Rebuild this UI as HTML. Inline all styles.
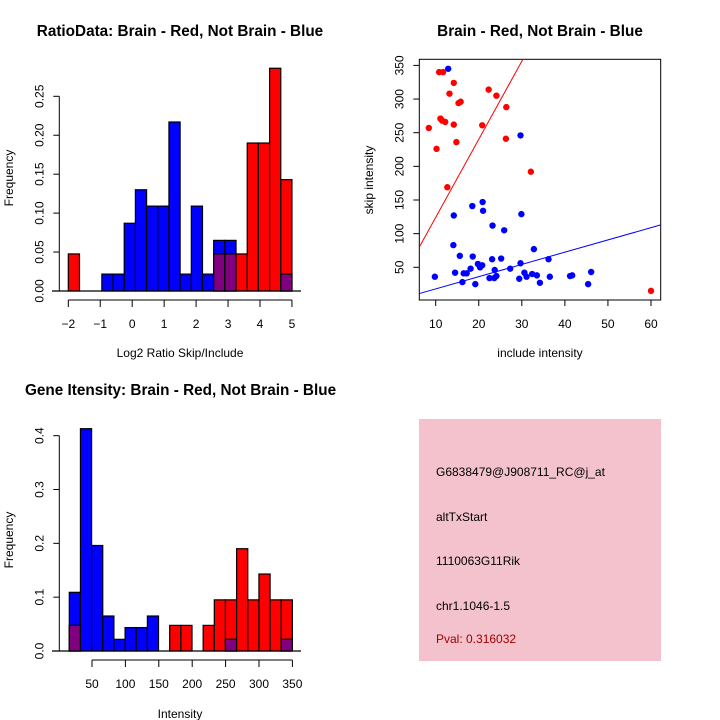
<!DOCTYPE html>
<html><head><meta charset="utf-8"><style>
html,body{margin:0;padding:0;background:#fff;}
svg{display:block;font-family:"Liberation Sans",sans-serif;}
</style></head><body>
<svg id="s" width="720" height="720" viewBox="0 0 720 720" xmlns="http://www.w3.org/2000/svg">
<g id="p1"></g>
<g id="p2"></g>
<g id="p3"></g>
<g>
<rect x="419" y="419" width="242" height="242" fill="#f3c2cd"/>
<text x="436" y="476" font-size="12">G6838479@J908711_RC@j_at</text>
<text x="436" y="521" font-size="12">altTxStart</text>
<text x="436" y="565" font-size="12">1110063G11Rik</text>
<text x="436" y="610" font-size="12">chr1.1046-1.5</text>
<text x="436" y="643" font-size="12" fill="#a00000">Pval: 0.316032</text>
</g>
</svg>
<script>
// ---- Plot 1 data: log2 ratio histogram (bins of 0.35 from -2) ----
const ratioBinStart = -2;
const ratioBinWidth = 0.35;
const ratioRed = [0.0476,0,0,0,0,0,0,0,0,0,0,0,0,0.0476,0.0476,0.0476,0.190,0.190,0.286,0.143];
const ratioBlue = [0,0,0,0.0217,0.0217,0.087,0.130,0.109,0.109,0.217,0.0217,0.109,0.0217,0.065,0.065,0,0,0,0,0.0217];
const ratioXTicks = [-2,-1,0,1,2,3,4,5];
const ratioYTicks = [0,0.05,0.10,0.15,0.20,0.25];
const ratioYLabels = ["0.00","0.05","0.10","0.15","0.20","0.25"];

// ---- Plot 2 data: scatter ----
const redInclude = [10.8,11.7,14.2,13.2,24.1,22.3,15.3,15.8,26.4,8.4,11.1,11.5,12.2,14.2,20.8,10.2,14.8,26.3,32.1,12.7,60];
const redSkip = [340,340,324,308,305,314,294,296,288,257,271,268,266,262,261,226,236,241,192,169,15];
const blueInclude = [12.9,29.7,14.2,18.5,20.9,21,29.9,23.2,25.9,14.1,15.6,18.6,32.8,23.1,25.2,36.2,19.8,20.8,20.3,29.7,18.1,27.3,23.7,14.5,16.5,17.2,30.6,32.4,31.1,33.5,9.8,22.5,23.6,24.1,36.5,41.2,41.7,46.1,16.2,29.4,34.2,19.2,45.4];
const blueSkip = [345,246,127,141,147,134,129,112,105,83,67,66,77,62,63,62,55,53,50,56,48,48,46,42,41,41,42,40,36,38,36,34,34,37,36,37,38,43,28,33,27,25,25];
const redFit = [8.2, 11.6];   // intercept, slope
const blueFit = [-0.3, 1.82];
const scatXTicks = [10,20,30,40,50,60];
const scatYTicks = [50,100,150,200,250,300,350];

// ---- Plot 3 data: intensity histogram ----
const intBinStart = 16;
const intBinWidth = 16.7;
const intRed = [0.0476,0,0,0,0,0,0,0,0,0.0476,0.0476,0,0.0476,0.095,0.095,0.190,0.095,0.143,0.095,0.095];
const intBlue = [0.109,0.413,0.196,0.065,0.0217,0.0435,0.0435,0.065,0,0,0,0,0,0,0.0217,0,0,0,0,0.0217];
const intXTicks = [50,100,150,200,250,300,350];
const intYTicks = [0,0.1,0.2,0.3,0.4];
const intYLabels = ["0.0","0.1","0.2","0.3","0.4"];

const NS = "http://www.w3.org/2000/svg";
function mk(parent, tag, attrs, text) {
  const e = document.createElementNS(NS, tag);
  for (const k in attrs) e.setAttribute(k, attrs[k]);
  if (text !== undefined) e.textContent = text;
  parent.appendChild(e);
  return e;
}

function histogram(g, o) {
  const X = v => o.x0 + (v - o.xv0) * o.xs;
  const Y = v => o.y0 - v * o.ys;
  const t = mk(g, 'text', {x: o.titleX, y: o.titleY, 'font-size': 15.3, 'font-weight': 'bold', 'text-anchor': o.titleAnchor});
  t.textContent = o.title;
  
  
  for (let i = 0; i < o.blue.length; i++) {
    const a = o.binStart + i * o.binW, b = a + o.binW;
    const layers = [];
    if (o.blue[i] > 0) layers.push([o.blue[i], '#0000ff', 'bar-blue']);
    if (o.red[i] > 0) layers.push([o.red[i], '#ff0000', 'bar-red']);
    layers.sort((p, q) => q[0] - p[0]);
    if (o.blue[i] > 0 && o.red[i] > 0) layers.push([Math.min(o.blue[i], o.red[i]), '#800080', 'bar-overlap']);
    for (const L of layers) {
      const r = mk(g, 'rect', {x: X(a), y: Y(L[0]), width: X(b) - X(a), height: Y(0) - Y(L[0]), fill: L[1], stroke: '#000', 'stroke-width': 1.2});
      
      
    }
  }
  const base = mk(g, 'line', {x1: o.baseL, x2: o.baseR, y1: Y(0), y2: Y(0), stroke: '#000', 'stroke-width': 1.2});
  
  
  const ya = mk(g, 'line', {x1: o.yAxisX, x2: o.yAxisX, y1: Y(o.yTicks[0]), y2: Y(o.yTicks[o.yTicks.length - 1]), stroke: '#000'});
  
  
  o.yTicks.forEach((v, i) => {
    mk(g, 'line', {x1: o.yAxisX - 6, x2: o.yAxisX, y1: Y(v), y2: Y(v), stroke: '#000'});
    const tl = mk(g, 'text', {x: 0, y: 0, 'font-size': 12, 'text-anchor': 'middle', transform: `translate(${o.yAxisX - 16},${Y(v)}) rotate(-90)`});
    tl.textContent = o.yLabels[i];
    
    
  });
  const xa = mk(g, 'line', {x1: X(o.xTicks[0]), x2: X(o.xTicks[o.xTicks.length - 1]), y1: o.xAxisY, y2: o.xAxisY, stroke: '#000'});
  
  
  o.xTicks.forEach(v => {
    mk(g, 'line', {x1: X(v), x2: X(v), y1: o.xAxisY, y2: o.xAxisY + 7, stroke: '#000'});
    const tl = mk(g, 'text', {x: X(v), y: o.xAxisY + 28, 'font-size': 12, 'text-anchor': 'middle'});
    tl.textContent = String(v).replace('-', '\u2212');
    
    
  });
  const xt = mk(g, 'text', {x: o.xTitleX, y: o.xTitleY, 'font-size': 12, 'text-anchor': 'middle'});
  xt.textContent = o.xTitle;
  
  
  const yt = mk(g, 'text', {x: 0, y: 0, 'font-size': 12, 'text-anchor': 'middle', transform: `translate(13,${o.yTitleY}) rotate(-90)`});
  yt.textContent = 'Frequency';
  
  
}

histogram(document.getElementById('p1'), {
  title: 'RatioData: Brain - Red, Not Brain - Blue', titleX: 180, titleY: 36, titleAnchor: 'middle',
  x0: 68.3, xv0: -2, xs: 31.95, y0: 291, ys: 778.8,
  binStart: ratioBinStart, binW: ratioBinWidth, red: ratioRed, blue: ratioBlue,
  baseL: 52, baseR: 301, yAxisX: 59.3, yTicks: ratioYTicks, yLabels: ratioYLabels,
  xAxisY: 300, xTicks: ratioXTicks, xTitle: 'Log2 Ratio Skip/Include', xTitleX: 180, xTitleY: 357, yTitleY: 178
});
histogram(document.getElementById('p3'), {
  title: 'Gene Itensity: Brain - Red, Not Brain - Blue', titleX: 25, titleY: 395, titleAnchor: 'start',
  x0: 92, xv0: 50, xs: 0.668, y0: 651, ys: 538.3,
  binStart: intBinStart, binW: intBinWidth, red: intRed, blue: intBlue,
  baseL: 52, baseR: 301, yAxisX: 59.3, yTicks: intYTicks, yLabels: intYLabels,
  xAxisY: 660, xTicks: intXTicks, xTitle: 'Intensity', xTitleX: 180, xTitleY: 718, yTitleY: 540
});

(function () {
  const g = document.getElementById('p2');
  const L = 419.3, R = 660.7, T = 59.3, B = 300;
  const X = v => 435.7 + (v - 10) * 4.306;
  const Y = v => 267.3 - (v - 50) * 0.673;
  const t = mk(g, 'text', {x: 540, y: 36, 'font-size': 15.3, 'font-weight': 'bold', 'text-anchor': 'middle'});
  t.textContent = 'Brain - Red, Not Brain - Blue';
  
  
  const clip = mk(g, 'clipPath', {id: 'sc'});
  mk(clip, 'rect', {x: L, y: T, width: R - L, height: B - T});
  const box = mk(g, 'rect', {x: L, y: T, width: R - L, height: B - T, fill: 'none', stroke: '#000'});
  
  
  const xmin = 10 + (L - 435.7) / 4.306, xmax = 10 + (R - 435.7) / 4.306;
  [[redFit, '#ff0000', 'fit-line-red'], [blueFit, '#0000ff', 'fit-line-blue']].forEach(f => {
    const ln = mk(g, 'line', {x1: X(xmin), y1: Y(f[0][0] + f[0][1] * xmin), x2: X(xmax), y2: Y(f[0][0] + f[0][1] * xmax), stroke: f[1], 'clip-path': 'url(#sc)'});
    
    
  });
  redInclude.forEach((v, i) => {
    const c = mk(g, 'circle', {cx: X(v), cy: Y(redSkip[i]), r: 3.2, fill: '#ff0000'});
    
    
  });
  blueInclude.forEach((v, i) => {
    const c = mk(g, 'circle', {cx: X(v), cy: Y(blueSkip[i]), r: 3.2, fill: '#0000ff'});
    
    
  });
  scatXTicks.forEach(v => {
    mk(g, 'line', {x1: X(v), x2: X(v), y1: B, y2: B + 6, stroke: '#000'});
    const tl = mk(g, 'text', {x: X(v), y: B + 28, 'font-size': 12, 'text-anchor': 'middle'});
    tl.textContent = v;
    
    
  });
  scatYTicks.forEach(v => {
    mk(g, 'line', {x1: L - 6, x2: L, y1: Y(v), y2: Y(v), stroke: '#000'});
    const tl = mk(g, 'text', {x: 0, y: 0, 'font-size': 12, 'text-anchor': 'middle', transform: `translate(${L - 16},${Y(v)}) rotate(-90)`});
    tl.textContent = v;
    
    
  });
  const xt = mk(g, 'text', {x: 540, y: 357, 'font-size': 12, 'text-anchor': 'middle'});
  xt.textContent = 'include intensity';
  
  
  const yt = mk(g, 'text', {x: 0, y: 0, 'font-size': 12, 'text-anchor': 'middle', transform: `translate(373,180) rotate(-90)`});
  yt.textContent = 'skip intensity';
  
  
})();
</script>
</body></html>
